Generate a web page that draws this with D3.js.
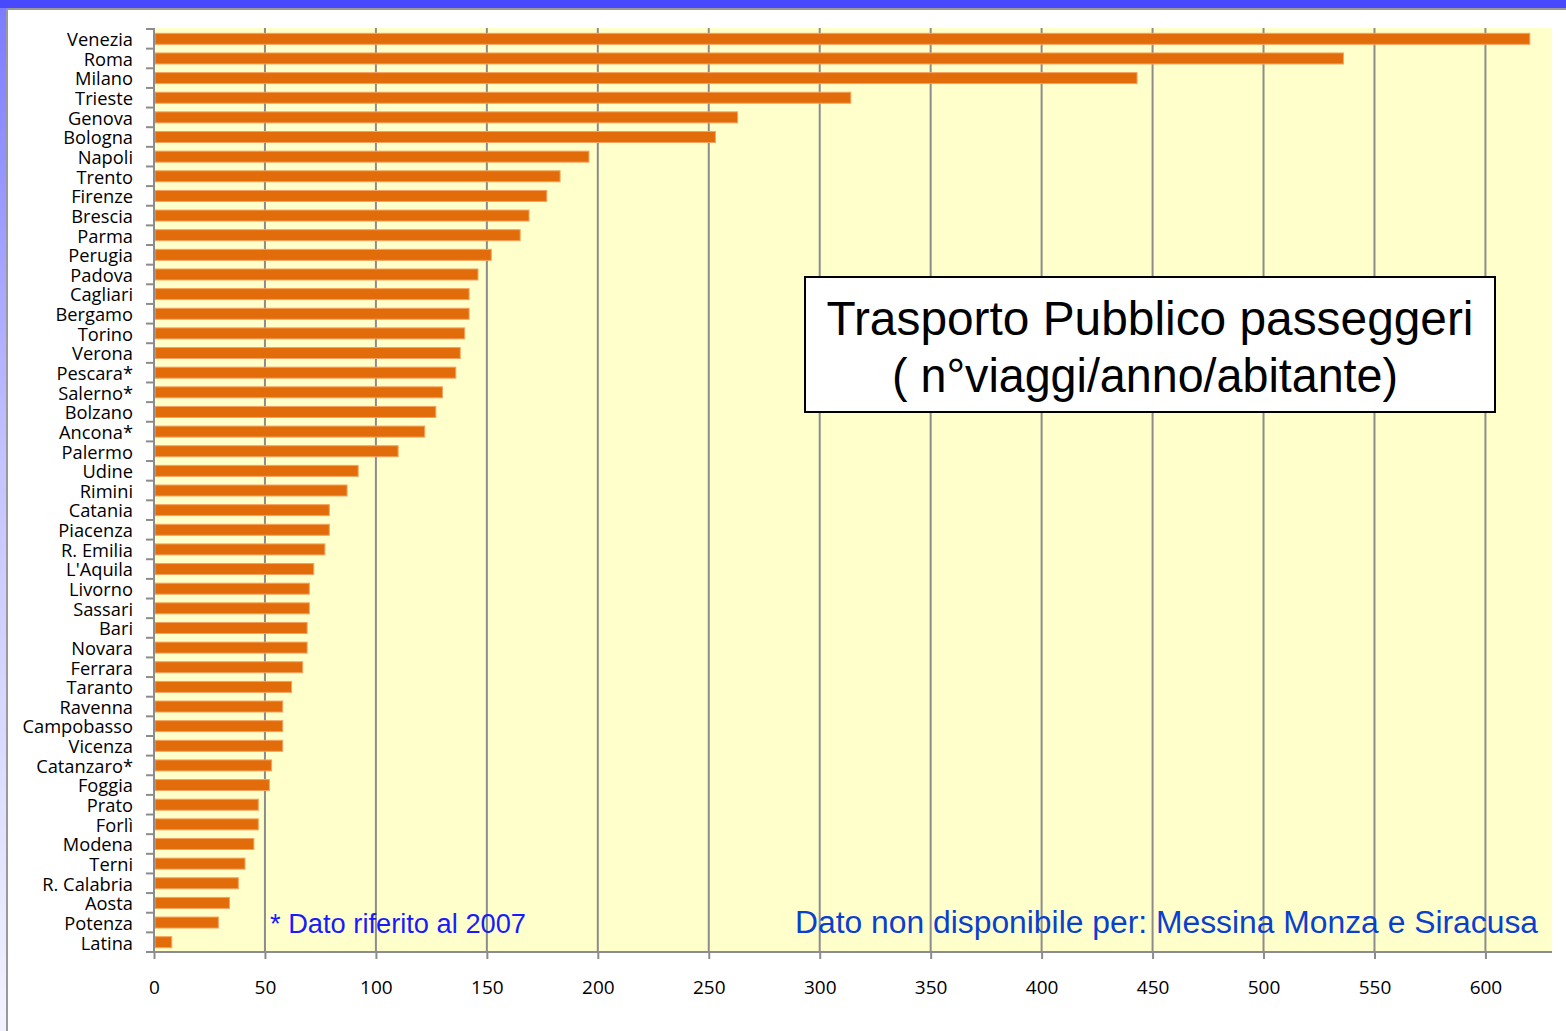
<!DOCTYPE html>
<html>
<head>
<meta charset="utf-8">
<script src="https://cdn.jsdelivr.net/npm/d3@7"></script>
<style>
  body { margin: 0; background: #ffffff; }
  svg { display: block; }
</style>
</head>
<body>
<div id="graphCard"></div>
<script>
// cities and values (n. viaggi / anno / abitante)
var cities = ["Venezia","Roma","Milano","Trieste","Genova","Bologna","Napoli","Trento","Firenze","Brescia",
  "Parma","Perugia","Padova","Cagliari","Bergamo","Torino","Verona","Pescara*","Salerno*","Bolzano",
  "Ancona*","Palermo","Udine","Rimini","Catania","Piacenza","R. Emilia","L'Aquila","Livorno","Sassari",
  "Bari","Novara","Ferrara","Taranto","Ravenna","Campobasso","Vicenza","Catanzaro*","Foggia","Prato",
  "Forlì","Modena","Terni","R. Calabria","Aosta","Potenza","Latina"];
var values = [620, 536, 443, 314, 263, 253, 196, 183, 177, 169,
  165, 152, 146, 142, 142, 140, 138, 136, 130, 127,
  122, 110, 92, 87, 79, 79, 77, 72, 70, 70,
  69, 69, 67, 62, 58, 58, 58, 53, 52, 47,
  47, 45, 41, 38, 34, 29, 8];
var xTicks = [0, 50, 100, 150, 200, 250, 300, 350, 400, 450, 500, 550, 600];
var titleLines = ["Trasporto Pubblico passeggeri", "( n°viaggi/anno/abitante)"];
var noteLeft = "* Dato riferito al 2007";
var noteRight = "Dato non disponibile per: Messina Monza e Siracusa";

function createGraph(W, H) {

    var pLeft = 154, pRight = 1552, pTop = 29, pBottom = 952;

    var svg = d3.select("#graphCard")
                .append("svg")
                .attr("width", W)
                .attr("height", H);

    var defs = svg.append("defs");
    var grad = defs.append("linearGradient").attr("id", "sideGrad")
      .attr("x1", 0).attr("y1", 0).attr("x2", 0).attr("y2", 1);
    grad.append("stop").attr("offset", "0%").attr("stop-color", "#7a7aff");
    grad.append("stop").attr("offset", "45%").attr("stop-color", "#c4c4ff");
    grad.append("stop").attr("offset", "100%").attr("stop-color", "#f2f2ff");

    // page frame: blue bar on top, lavender strip on the left
    svg.append("rect").attr("x", 0).attr("y", 0).attr("width", 7).attr("height", H).attr("fill", "url(#sideGrad)");
    svg.append("rect").attr("x", 0).attr("y", 0).attr("width", W).attr("height", 8).attr("fill", "#4848ff");
    svg.append("line").attr("x1", 7).attr("x2", W).attr("y1", 9).attr("y2", 9)
       .attr("stroke", "#999999").attr("stroke-width", 2);
    svg.append("line").attr("x1", 7).attr("x2", 7).attr("y1", 9).attr("y2", H)
       .attr("stroke", "#999999").attr("stroke-width", 2);

    var x = d3.scaleLinear().domain([0, 630]).range([pLeft, pRight]);
    var y = d3.scaleBand().domain(cities).range([pTop, pBottom]);

    // plot area
    svg.append("rect")
       .attr("x", pLeft).attr("y", pTop - 1)
       .attr("width", pRight - pLeft).attr("height", pBottom - pTop + 1)
       .attr("fill", "#ffffcc");

    // gridlines
    svg.append("g")
       .selectAll("line")
       .data(xTicks.filter(function(d) { return d > 0; }))
       .enter()
       .append("line")
       .attr("x1", function(d) { return x(d); })
       .attr("x2", function(d) { return x(d); })
       .attr("y1", pTop - 1)
       .attr("y2", pBottom)
       .attr("stroke", "#8c8c8c")
       .attr("stroke-width", 2);

    // bars
    svg.append("g")
       .selectAll("rect")
       .data(values)
       .enter()
       .append("rect")
       .attr("x", x(0) + 1)
       .attr("y", function(d, i) { return y(cities[i]) + y.bandwidth() / 2 - 5.5; })
       .attr("width", function(d) { return x(d) - x(0) - 1; })
       .attr("height", 11)
       .attr("fill", "#e36c0a")
       .attr("stroke", "#f5a25e")
       .attr("stroke-width", 1);

    // x axis
    var xAxis = d3.axisBottom(x).tickValues(xTicks).tickSize(7).tickPadding(22);
    var gx = svg.append("g").attr("transform", "translate(0," + pBottom + ")").call(xAxis);
    gx.select(".domain").attr("stroke", "#8c8c8c").attr("stroke-width", 2)
      .attr("d", "M" + (pLeft - 8) + ",0H" + pRight);
    gx.selectAll(".tick line").attr("stroke", "#8c8c8c").attr("stroke-width", 2);
    gx.selectAll(".tick text")
      .attr("font-family", "'Open Sans', sans-serif")
      .attr("font-size", "19px")
      .attr("fill", "#000");

    // y axis, ticks drawn at the band boundaries
    var yAxis = d3.axisLeft(y).tickSize(0).tickPadding(21);
    var gy = svg.append("g").attr("transform", "translate(" + pLeft + ",0)").call(yAxis);
    gy.select(".domain").attr("stroke", "#8c8c8c").attr("stroke-width", 2)
      .attr("d", "M0," + (pTop - 1) + "V" + pBottom);
    gy.selectAll(".tick text")
      .attr("font-family", "'Open Sans', sans-serif")
      .attr("font-size", "18.3px")
      .attr("dy", "0.4em")
      .attr("fill", "#000");

    var bounds = cities.map(function(c) { return y(c); }).concat([pBottom]);
    svg.append("g")
       .selectAll("line")
       .data(bounds)
       .enter()
       .append("line")
       .attr("x1", pLeft - 8)
       .attr("x2", pLeft)
       .attr("y1", function(d) { return d; })
       .attr("y2", function(d) { return d; })
       .attr("stroke", "#8c8c8c")
       .attr("stroke-width", 2);

    // title box
    svg.append("rect")
       .attr("x", 805).attr("y", 277)
       .attr("width", 690).attr("height", 135)
       .attr("fill", "#ffffff")
       .attr("stroke", "#000000")
       .attr("stroke-width", 2);
    svg.append("text")
       .attr("x", 1150).attr("y", 335)
       .attr("text-anchor", "middle")
       .attr("font-family", "'Liberation Sans', Arial, sans-serif")
       .attr("font-size", "48px")
       .attr("textLength", 647).attr("lengthAdjust", "spacingAndGlyphs")
       .text(titleLines[0]);
    svg.append("text")
       .attr("x", 1145).attr("y", 392)
       .attr("text-anchor", "middle")
       .attr("font-family", "'Liberation Sans', Arial, sans-serif")
       .attr("font-size", "48px")
       .attr("textLength", 506).attr("lengthAdjust", "spacingAndGlyphs")
       .text(titleLines[1]);

    // notes
    svg.append("text")
       .attr("x", 270).attr("y", 933)
       .attr("font-family", "'Liberation Sans', Arial, sans-serif")
       .attr("font-size", "27px")
       .attr("textLength", 256).attr("lengthAdjust", "spacingAndGlyphs")
       .attr("fill", "#1a1aff")
       .text(noteLeft);
    svg.append("text")
       .attr("x", 795).attr("y", 933)
       .attr("font-family", "'Liberation Sans', Arial, sans-serif")
       .attr("font-size", "31px")
       .attr("textLength", 743).attr("lengthAdjust", "spacingAndGlyphs")
       .attr("fill", "#0a3fd0")
       .text(noteRight);
}

createGraph(1566, 1031);
</script>
</body>
</html>
